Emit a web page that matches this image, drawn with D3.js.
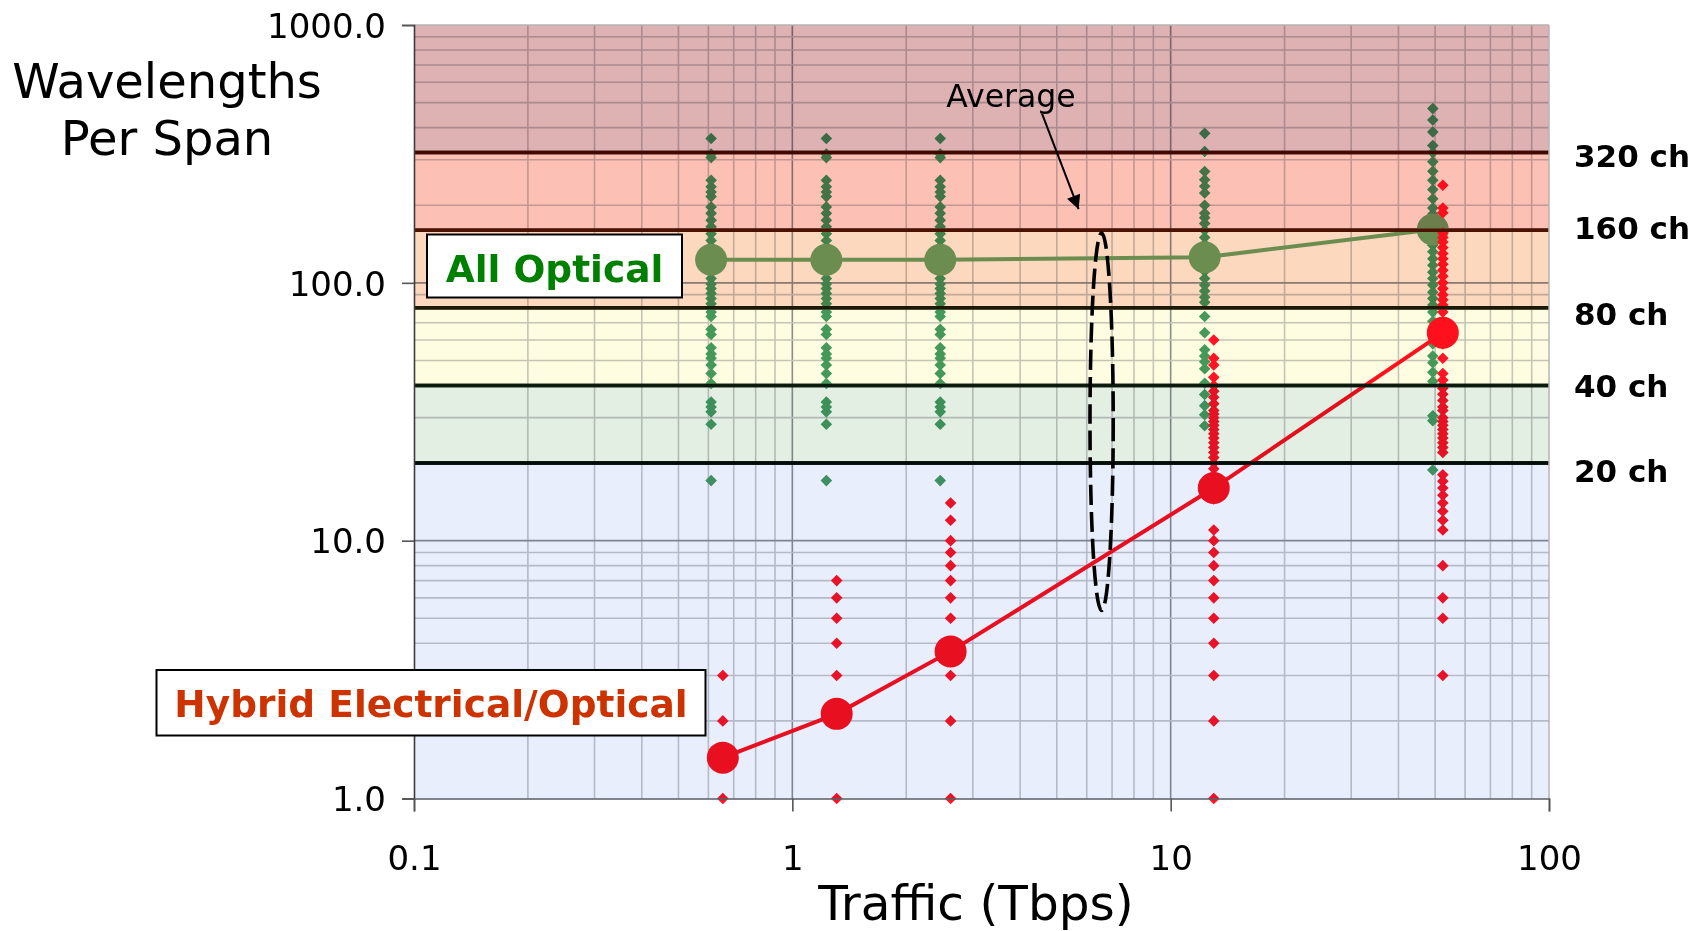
<!DOCTYPE html>
<html>
<head>
<meta charset="utf-8">
<script src="https://cdn.jsdelivr.net/npm/d3@7"></script>
<style>
  html, body { margin: 0; padding: 0; background: #ffffff; }
  svg { display: block; font-family: "DejaVu Sans", sans-serif; }
</style>
</head>
<body>
<svg id="chart" width="1704" height="931"></svg>
<script>
// ---- Data -------------------------------------------------------------
// Traffic level (Tbps) of each network scenario
const opticalTraffic = [0.61, 1.23, 2.46, 12.3, 49.3];
const hybridTraffic  = [0.655, 1.31, 2.62, 13.0, 52.4];

// Wavelengths carried on each span, all-optical design
const opticalSpans1 = [363, 316, 306, 250, 236, 225, 216, 197, 186, 175, 165, 155, 146, 138, 131, 124, 117, 110, 104, 99, 95, 91, 87, 83, 77, 74, 66, 63, 56, 53, 51, 48, 44.5, 40.7, 34.5, 33, 31.6, 28.3, 17.1];
const opticalSpans2 = [363, 316, 306, 250, 236, 225, 216, 197, 186, 175, 165, 155, 146, 138, 131, 124, 117, 110, 104, 99, 95, 91, 87, 83, 77, 74, 66, 63, 56, 53, 51, 48, 44.5, 40.7, 34.5, 33, 31.6, 28.3, 17.1];
const opticalSpans3 = [363, 316, 306, 250, 236, 225, 216, 197, 186, 175, 165, 155, 146, 138, 131, 124, 117, 110, 104, 99, 95, 91, 87, 83, 77, 74, 66, 63, 56, 53, 51, 48, 44.5, 40.7, 34.5, 33, 31.6, 28.3, 17.1];
const opticalSpans4 = [380, 323, 270, 251, 237, 223, 200, 186, 179, 170, 160, 150, 141, 133, 125, 118, 111, 104, 98, 93, 88, 84, 74, 64, 55, 52, 49.4, 46.4, 40.8, 36.9, 33.4, 30.8, 27.9, 17];
const opticalSpans5 = [474, 428, 385, 341, 320, 295, 271, 250, 230, 212, 195, 185, 175, 165, 156, 148, 140, 132, 124, 117, 110, 104, 98, 92, 87, 82, 77, 71, 64, 58, 52, 49, 45, 41.5, 30.5, 29.2, 18.8];

// Wavelengths carried on each span, hybrid electrical/optical design
const hybridSpans1 = [1, 2, 3];
const hybridSpans2 = [1, 3, 4, 5, 6, 7];
const hybridSpans3 = [1, 2, 3, 5, 6, 7, 8, 9, 10, 12, 14];
const hybridSpans4 = [1, 2, 3, 4, 5, 6, 7, 8, 9, 10, 11, 14.5, 19, 20, 21, 22, 23, 24, 25, 26, 27, 28, 29, 30, 31, 32, 34, 36, 38, 40, 43, 48, 51, 60];
const hybridSpans5 = [3, 5, 6, 8, 11, 12, 13, 14, 15, 16, 17, 18, 22, 23, 24, 25, 26, 27, 28, 29, 30, 32, 33, 35, 37, 39, 40, 42, 44.5, 51, 58, 70, 77, 82, 86, 90, 95, 100, 106, 112, 118, 124, 130, 137, 144, 150, 156, 187, 195, 239];

// Average wavelengths per span
const opticalAverage = [122.9, 122.9, 122.9, 125.6, 161];
const hybridAverage  = [1.44, 2.13, 3.72, 16.0, 64];

// System channel capacities
const channelLevels = [320, 160, 80, 40, 20];
const channelLabels = ["320 ch", "160 ch", "80 ch", "40 ch", "20 ch"];
const channelLineColors = ["#420800", "#4e1200", "#1c1a06", "#0a1a0c", "#020c08"];

// Capacity bands (lower edge, upper edge)
const bandEdges  = [1, 20, 40, 80, 160, 320, 1000];
const bandColors = ["#e8eefc", "#e4efe3", "#fefde2", "#fbd8be", "#fcc0b4", "#deb1b3"];

// Axes
const xTicks = [0.1, 1, 10, 100];
const xTickLabels = ["0.1", "1", "10", "100"];
const yTicks = [1, 10, 100, 1000];
const yTickLabels = ["1.0", "10.0", "100.0", "1000.0"];

// "Average" callout: arrow (traffic, wavelengths) and ellipse extent
const calloutArrow = [[4.57, 453], [5.71, 193]];
const calloutEllipseX = [6.12, 7.05];
const calloutEllipseY = [5.36, 156];

// ---- Layout -----------------------------------------------------------
const svg = d3.select("#chart");
const plot = { left: 414, right: 1549, top: 25, bottom: 798.5 };
// vertical nudge (px) of each capacity label below its line
const channelLabelNudge = [14.5, 8.5, 17, 11.5, 19];

const x = d3.scaleLog().domain([0.1, 100]).range([plot.left, plot.right]);
const y = d3.scaleLog().domain([1, 1000]).range([plot.bottom, plot.top]);

svg.append("rect").attr("width", 1704).attr("height", 931).attr("fill", "#ffffff");

// ---- Grid -------------------------------------------------------------
const grid = svg.append("g");
const isDecade = v => Math.abs(Math.log10(v) - Math.round(Math.log10(v))) < 1e-9;

grid.selectAll("line.gx").data(x.ticks().filter(v => v > 0.1 && v < 100))
  .join("line")
  .attr("x1", d => x(d)).attr("x2", d => x(d))
  .attr("y1", plot.top).attr("y2", plot.bottom)
  .attr("stroke", d => isDecade(d) ? "#8c8e98" : "#c6c7cc")
  .attr("stroke-width", 1.6);

grid.selectAll("line.gy").data(y.ticks().filter(v => v > 1 && v < 1000))
  .join("line")
  .attr("x1", plot.left).attr("x2", plot.right)
  .attr("y1", d => y(d)).attr("y2", d => y(d))
  .attr("stroke", d => isDecade(d) ? "#8c8e98" : "#c6c7cc")
  .attr("stroke-width", 1.6);

// ---- Channel capacity lines --------------------------------------------
svg.append("g").selectAll("line")
  .data(channelLevels)
  .join("line")
  .attr("x1", plot.left).attr("x2", plot.right)
  .attr("y1", d => y(d)).attr("y2", d => y(d))
  .attr("stroke", "#000000")
  .attr("stroke-width", 3.5);

// ---- Per-span scatter ------------------------------------------------
const diamond = "M0,-5.8L5.8,0L0,5.8L-5.8,0Z";

function drawSpans(traffic, columns, color) {
  const pts = [];
  columns.forEach((col, i) => col.forEach(v => pts.push([traffic[i], v])));
  svg.append("g").selectAll("path")
    .data(pts)
    .join("path")
    .attr("d", diamond)
    .attr("transform", d => `translate(${x(d[0])},${y(d[1])})`)
    .attr("fill", color);
}

function drawAverage(traffic, values, color) {
  const pts = traffic.map((t, i) => [t, values[i]]);
  const g = svg.append("g");
  g.append("path")
    .datum(pts)
    .attr("d", d3.line().x(d => x(d[0])).y(d => y(d[1])))
    .attr("fill", "none")
    .attr("stroke", color)
    .attr("stroke-width", 4);
  g.selectAll("circle")
    .data(pts)
    .join("circle")
    .attr("cx", d => x(d[0])).attr("cy", d => y(d[1]))
    .attr("r", 16)
    .attr("fill", color);
}

drawSpans(opticalTraffic, [opticalSpans1, opticalSpans2, opticalSpans3, opticalSpans4, opticalSpans5], "#449a64");
drawAverage(opticalTraffic, opticalAverage, "#6da86b");
drawSpans(hybridTraffic, [hybridSpans1, hybridSpans2, hybridSpans3, hybridSpans4, hybridSpans5], "#ff1428");
drawAverage(hybridTraffic, hybridAverage, "#ff1020");

// ---- Translucent capacity bands (tint everything beneath) --------------
svg.append("g").selectAll("rect")
  .data(bandColors)
  .join("rect")
  .attr("x", plot.left)
  .attr("width", plot.right - plot.left)
  .attr("y", (d, i) => y(bandEdges[i + 1]))
  .attr("height", (d, i) => y(bandEdges[i]) - y(bandEdges[i + 1]))
  .attr("fill", d => d)
  .style("mix-blend-mode", "multiply");

// Capacity lines re-stroked in their tinted shades
svg.append("g").selectAll("line")
  .data(channelLevels)
  .join("line")
  .attr("x1", plot.left).attr("x2", plot.right)
  .attr("y1", d => y(d)).attr("y2", d => y(d))
  .attr("stroke", (d, i) => channelLineColors[i])
  .attr("stroke-width", 3.5);

// ---- Frame & axes -----------------------------------------------------
svg.append("line")
  .attr("x1", plot.left).attr("x2", plot.right)
  .attr("y1", plot.top).attr("y2", plot.top)
  .attr("stroke", "#b4b4b4").attr("stroke-width", 1.5);
svg.append("line")
  .attr("x1", plot.right).attr("x2", plot.right)
  .attr("y1", plot.top).attr("y2", plot.bottom)
  .attr("stroke", "#b4b4b4").attr("stroke-width", 1.5);

const yAxis = d3.axisLeft(y).tickValues(yTicks)
  .tickFormat((d, i) => yTickLabels[i]).tickSize(12).tickPadding(16);
const gy = svg.append("g").attr("transform", `translate(${plot.left},0)`).call(yAxis);
gy.select(".domain").attr("stroke", "#3c3c3c").attr("stroke-width", 1.6);
gy.selectAll(".tick line").attr("stroke", "#555").attr("stroke-width", 1.6);
gy.selectAll(".tick text")
  .attr("font-family", "DejaVu Sans").attr("font-size", 34).attr("fill", "#000")
  .attr("dy", "0.36em");

const xAxis = d3.axisBottom(x).tickValues(xTicks)
  .tickFormat((d, i) => xTickLabels[i]).tickSize(13).tickPadding(0);
const gx = svg.append("g").attr("transform", `translate(0,${plot.bottom})`).call(xAxis);
gx.select(".domain").attr("stroke", "#5a5c66").attr("stroke-width", 1.6);
gx.selectAll(".tick line").attr("stroke", "#555").attr("stroke-width", 1.6);
gx.selectAll(".tick text")
  .attr("font-family", "DejaVu Sans").attr("font-size", 34).attr("fill", "#000")
  .attr("dy", null).attr("y", 71.5);

// Axis titles
svg.append("text")
  .attr("x", 976).attr("y", 920)
  .attr("text-anchor", "middle")
  .attr("font-size", 48.5)
  .text("Traffic (Tbps)");

const yTitle = svg.append("text")
  .attr("text-anchor", "middle")
  .attr("font-size", 48);
yTitle.append("tspan").attr("x", 167).attr("y", 98).text("Wavelengths");
yTitle.append("tspan").attr("x", 167).attr("y", 155).text("Per Span");

// ---- Channel labels ---------------------------------------------------
svg.append("g").selectAll("text")
  .data(channelLevels)
  .join("text")
  .attr("x", 1574)
  .attr("y", (d, i) => y(d) + channelLabelNudge[i])
  .attr("font-size", 31)
  .attr("font-weight", "bold")
  .text((d, i) => channelLabels[i]);

// ---- "Average" callout --------------------------------------------------
svg.append("defs").append("marker")
  .attr("id", "arrowhead")
  .attr("viewBox", "0 0 10 10")
  .attr("refX", 10).attr("refY", 5)
  .attr("markerUnits", "userSpaceOnUse")
  .attr("markerWidth", 17).attr("markerHeight", 14)
  .attr("orient", "auto")
  .append("path")
  .attr("d", "M0,0L10,5L0,10Z")
  .attr("fill", "#000");

const a0 = [x(calloutArrow[0][0]), y(calloutArrow[0][1])];
const a1 = [x(calloutArrow[1][0]), y(calloutArrow[1][1])];
svg.append("line")
  .attr("x1", a0[0]).attr("y1", a0[1])
  .attr("x2", a1[0]).attr("y2", a1[1])
  .attr("stroke", "#000").attr("stroke-width", 2)
  .attr("marker-end", "url(#arrowhead)");

svg.append("text")
  .attr("x", a0[0] - 31).attr("y", a0[1] - 7)
  .attr("text-anchor", "middle")
  .attr("font-size", 31.5)
  .text("Average");

const ex0 = x(calloutEllipseX[0]), ex1 = x(calloutEllipseX[1]);
const ey0 = y(calloutEllipseY[1]), ey1 = y(calloutEllipseY[0]);
svg.append("ellipse")
  .attr("cx", (ex0 + ex1) / 2).attr("cy", (ey0 + ey1) / 2)
  .attr("rx", (ex1 - ex0) / 2).attr("ry", (ey1 - ey0) / 2)
  .attr("fill", "none")
  .attr("stroke", "#000")
  .attr("stroke-width", 3.6)
  .attr("stroke-dasharray", "20,7");

// ---- Series labels ----------------------------------------------------
function boxLabel(x0, y0, w, h, text, color, baseline) {
  const g = svg.append("g");
  g.append("rect")
    .attr("x", x0).attr("y", y0).attr("width", w).attr("height", h)
    .attr("fill", "#ffffff").attr("stroke", "#000").attr("stroke-width", 2);
  g.append("text")
    .attr("x", x0 + w / 2).attr("y", baseline)
    .attr("text-anchor", "middle")
    .attr("font-size", 37.5).attr("font-weight", "bold")
    .attr("fill", color)
    .text(text);
}
boxLabel(427, 234.5, 255, 63, "All Optical", "#008000", 281.5);
boxLabel(156.5, 670, 549, 65.5, "Hybrid Electrical/Optical", "#cc3300", 717);
</script>
</body>
</html>
